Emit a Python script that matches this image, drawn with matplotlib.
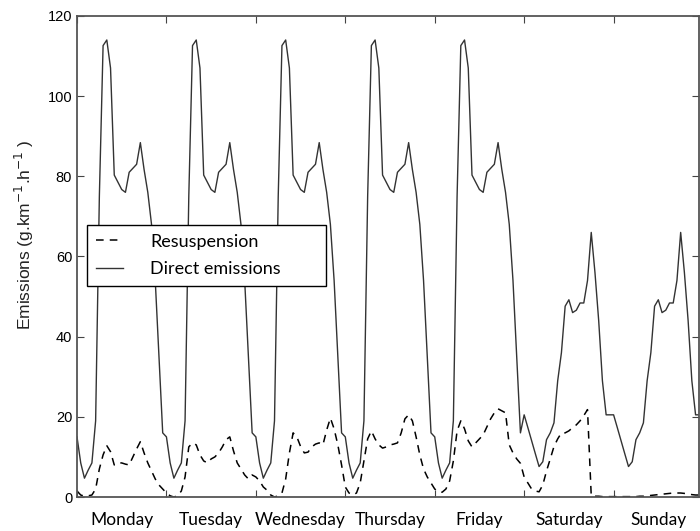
import numpy as np
import matplotlib
matplotlib.use('Agg')
import matplotlib.pyplot as plt

days = ['Monday', 'Tuesday', 'Wednesday', 'Thursday', 'Friday', 'Saturday', 'Sunday']

# direct emissions, hourly profile (same for every weekday / weekend day)
weekday_direct = [15, 8.5, 4.7, 6.7, 8.5, 19, 75, 112.6, 114, 107, 80.3, 78.5,
                  76.7, 76, 81, 82, 83, 88.4, 81.7, 76, 68, 54, 35, 16]
weekend_direct = [20.5, 17.3, 14, 10.8, 7.6, 8.8, 14.3, 16, 18.5, 29, 36, 47.6,
                  49.2, 46, 46.6, 48.4, 48.4, 54, 66, 56, 44, 29, 20.5, 20.5]

# resuspension, hourly, day by day
resus_mon = [1.5, 0.5, 0.2, 0.3, 0.5, 2, 7, 10.5, 12.8, 11.3, 8, 8.5,
             8.5, 8.2, 8, 10, 12, 13.8, 11, 8.5, 6.5, 4.5, 3, 2]
resus_tue = [1, 0.3, 0, 0.3, 1.5, 5, 12.5, 13.5, 13, 10.5, 9, 8.5,
             9.5, 10, 11, 12.5, 14.3, 15, 11.5, 8.5, 7, 5.5, 4.5, 5.5]
resus_wed = [5, 4, 2.5, 1.7, 0.5, 0, 0.3, 1, 4.5, 11, 16, 15,
             12.6, 11, 11.2, 12.5, 13.2, 13.5, 13, 16.7, 19.7, 17, 13, 8]
resus_thu = [2.5, 1, 0.5, 1, 3.5, 9, 14.5, 16.5, 14.5, 13, 12.2, 12.5,
             13, 13.2, 13.5, 16, 19.5, 20.5, 19, 15, 10.5, 7, 5, 3.5]
resus_fri = [2, 1.3, 1.2, 2, 4, 9, 16.5, 19, 17, 14, 12.5, 13.5,
             14.5, 15.5, 17.5, 19.5, 21, 22, 21.5, 21, 13, 11, 9.5, 8.4]
resus_sat = [5, 3.5, 2, 1.5, 1.3, 3, 6.5, 9.5, 12.6, 14.5, 16, 16,
             16.5, 17.3, 18, 19, 20.3, 21.8, 0.3, 0.2, 0.2, 0.1, 0.1, 0.1]
resus_sun = [0.1, 0.1, 0.1, 0.1, 0.1, 0.1, 0.1, 0.2, 0.2, 0.3, 0.4, 0.5,
             0.6, 0.7, 0.8, 0.9, 1, 1, 1, 0.9, 0.8, 0.6, 0.5, 0.5]

direct = weekday_direct * 5 + weekend_direct * 2
resus = resus_mon + resus_tue + resus_wed + resus_thu + resus_fri + resus_sat + resus_sun
hours = np.arange(len(direct))

fig = plt.figure(figsize=(7, 5.31), dpi=100)
ax = fig.add_axes([0.11, 0.064, 0.889, 0.906])

ax.plot(hours, resus, '--', color='black', lw=1.1, dashes=(5, 4), label='Resuspension')
ax.plot(hours, direct, '-', color='#333333', lw=1.0, label='Direct emissions')

ax.set_xlim(0, 167)
ax.set_ylim(0, 120)
ax.set_xticks(np.arange(0, 168, 24))
ax.set_xticklabels([])
ax.set_xticks(np.arange(12, 168, 24), minor=True)
ax.set_xticklabels(days, minor=True, fontsize=12.5, family='Lato')
ax.tick_params(axis='x', which='minor', length=0, pad=11)
ax.set_yticks(np.arange(0, 121, 20))
ax.tick_params(which='major', direction='in', length=5, top=True, right=True,
               color='#444444', labelsize=10.5)
for lab in ax.get_yticklabels():
    lab.set_family('Liberation Sans')
for sp in ax.spines.values():
    sp.set_color('#555555')
    sp.set_linewidth(1.3)

ax.set_ylabel('Emissions (g.km$^{-1}$.h$^{-1}$ )', fontsize=12.5, family='Liberation Sans',
              color='#222222')
ax.yaxis.set_label_coords(-0.066, 0.545)

leg = ax.legend(loc='upper left', bbox_to_anchor=(0.016, 0.366, 0.384, 0.2),
                mode='expand', borderaxespad=0,
                prop={'family': 'Lato', 'size': 13}, fancybox=False, frameon=True,
                handlelength=1.5, handletextpad=1.5, borderpad=0.5, labelspacing=0.62)
leg.get_frame().set_edgecolor('black')
leg.get_frame().set_linewidth(1.0)
leg.get_frame().set_alpha(1)

fig.savefig('out.png', dpi=100)
